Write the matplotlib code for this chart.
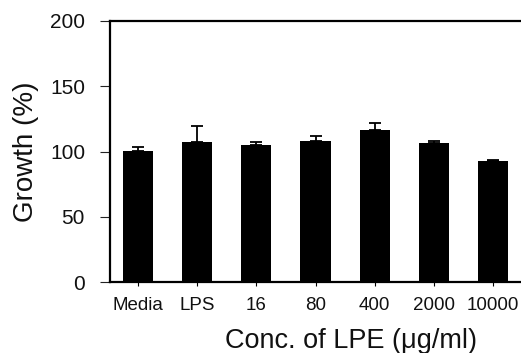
import matplotlib
matplotlib.use("Agg")
import matplotlib.pyplot as plt
import numpy as np

# Cell growth after treatment with LPE at various concentrations
categories = ["Media", "LPS", "16", "80", "400", "2000", "10000"]
growth = [100.4, 107.3, 104.7, 108.0, 116.5, 106.5, 92.5]
growth_err = [3.3, 12.2, 2.3, 4.1, 5.6, 1.3, 1.2]
y_ticks = [0, 50, 100, 150, 200]

plt.rcParams["font.family"] = ["Liberation Sans", "DejaVu Sans"]

W, H = 521, 353
fig = plt.figure(figsize=(W / 100, H / 100), dpi=100)
ax = fig.add_axes([110 / W, (H - 282) / H, (W - 110) / W, (282 - 21) / H])

x = np.arange(len(categories))
ax.bar(x, growth, width=0.51, color="black", zorder=2)
ax.errorbar(x, growth, yerr=[np.zeros(len(growth_err)), growth_err], fmt="none",
            ecolor="black", elinewidth=1.3, capsize=4.5, capthick=1.3, zorder=3)

ax.set_xlim(-0.473, 6.473)
ax.set_ylim(0, 200)
ax.set_yticks(y_ticks)
ax.set_xticks(x)
ax.set_xticklabels(categories)

for side in ["left", "top", "bottom"]:
    ax.spines[side].set_linewidth(1.6)
ax.spines["right"].set_visible(False)

ax.tick_params(axis="y", direction="out", length=7, width=0.8, pad=11,
               labelsize=15, colors="#222222", labelcolor="#111111")
ax.tick_params(axis="x", direction="out", length=3, width=0.8, pad=8,
               labelsize=13.5, labelcolor="#111111")

ax.set_ylabel("Growth (%)", fontsize=20, color="#111111")
ax.yaxis.set_label_coords(-0.172, 0.5)
ax.set_xlabel("Conc. of LPE (μg/ml)", fontsize=19.5, color="#111111")
ax.xaxis.set_label_coords((351 - 110) / (W - 110), -0.178)

fig.savefig("out.png", dpi=100)
